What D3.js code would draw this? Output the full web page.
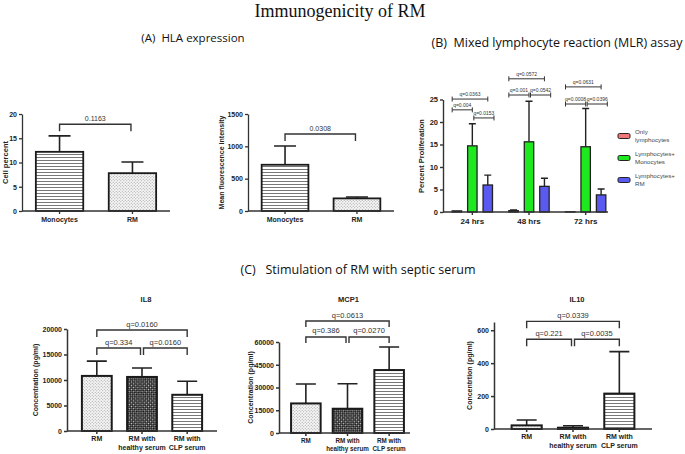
<!DOCTYPE html>
<html>
<head>
<meta charset="utf-8">
<script src="https://cdn.jsdelivr.net/npm/d3@7"></script>
<style>
  body { margin: 0; background: #fff; }
  svg { display: block; }
  text { font-family: "Liberation Sans", Arial, sans-serif; fill: #222; }
</style>
</head>
<body>
<svg></svg>
<script>
const w = 685
const h = 454
const svg = d3.select("svg").attr("width", w).attr("height", h)

// (A) HLA expression
const hlaGroups = ["Monocytes", "RM"]
const cellPercent = [12.2, 7.8]
const cellPercentSD = [3.3, 2.3]
const mfiValues = [715, 195]
const mfiSD = [290, 22]

// (B) MLR assay
const mlrTimes = ["24 hrs", "48 hrs", "72 hrs"]
const mlrSeries = ["Only lymphocytes", "Lymphocytes+ Monocytes", "Lymphocytes+ RM"]
const onlyLymph = [0.25, 0.3, 0.05]
const onlyLymphSD = [0, 0.15, 0]
const lymphMono = [14.7, 15.6, 14.5]
const lymphMonoSD = [4.9, 9.0, 8.5]
const lymphRM = [6.0, 5.7, 3.8]
const lymphRMSD = [2.2, 1.8, 1.3]
const mlrColors = ["#f07878", "#1ee81e", "#5a5af0"]
// time, from series, to series, label, level
const mlrQ = [
  ["24 hrs", 0, 1, "q=0.004", 22.7],
  ["24 hrs", 1, 2, "q=0.0153", 20.9],
  ["24 hrs", 0, 2, "q=0.0363", 25.1],
  ["48 hrs", 0, 1, "q=0.001", 26.0],
  ["48 hrs", 1, 2, "q=0.0542", 26.0],
  ["48 hrs", 0, 2, "q=0.0572", 29.6],
  ["72 hrs", 0, 1, "q=0.0008", 24.0],
  ["72 hrs", 1, 2, "q=0.0396", 24.0],
  ["72 hrs", 0, 2, "q=0.0631", 27.8]
]

// (C) septic serum
const serumGroups = ["RM", "RM with|healthy serum", "RM with|CLP serum"]
const il8 = [10800, 10600, 7100]
const il8SD = [2900, 1750, 2650]
const mcp1 = [19500, 16000, 41500]
const mcp1SD = [12800, 16500, 15200]
const il10 = [22, 8, 215]
const il10SD = [33, 12, 255]

// patterns
const defs = svg.append("defs")
const hl = defs.append("pattern").attr("id", "hlines").attr("patternUnits", "userSpaceOnUse")
  .attr("width", 4).attr("height", 3)
hl.append("rect").attr("width", 4).attr("height", 3).attr("fill", "#fff")
hl.append("line").attr("x1", 0).attr("x2", 4).attr("y1", 1.5).attr("y2", 1.5)
  .attr("stroke", "#555").attr("stroke-width", 0.8)
const dt = defs.append("pattern").attr("id", "dots").attr("patternUnits", "userSpaceOnUse")
  .attr("width", 3).attr("height", 3)
dt.append("rect").attr("width", 3).attr("height", 3).attr("fill", "#f6f6f6")
dt.append("circle").attr("cx", 0.75).attr("cy", 0.75).attr("r", 0.55).attr("fill", "#999")
dt.append("circle").attr("cx", 2.25).attr("cy", 2.25).attr("r", 0.55).attr("fill", "#999")
const ck = defs.append("pattern").attr("id", "checker").attr("patternUnits", "userSpaceOnUse")
  .attr("width", 3).attr("height", 3).attr("patternTransform", "rotate(45)")
ck.append("rect").attr("width", 3).attr("height", 3).attr("fill", "#111")
ck.append("rect").attr("x", 0.3).attr("y", 0.3).attr("width", 1.1).attr("height", 1.1).attr("fill", "#fff")
ck.append("rect").attr("x", 1.8).attr("y", 1.8).attr("width", 1.1).attr("height", 1.1).attr("fill", "#fff")

svg.append("rect").attr("width", w).attr("height", h).attr("fill", "#fff").lower()

// titles
svg.append("text").attr("x", 340).attr("y", 17).attr("text-anchor", "middle")
  .style("font-family", "'Liberation Serif', serif").style("font-size", "18px").style("fill", "#111")
  .text("Immunogenicity of RM")
const sectionTitle = (x, y, txt, size) => svg.append("text").attr("x", x).attr("y", y)
  .attr("text-anchor", "middle").attr("xml:space", "preserve")
  .style("font-family", "'Open Sans', sans-serif").style("font-size", size + "px").style("fill", "#111")
  .text(txt)
sectionTitle(193, 42, "(A)  HLA expression", 11.5)
sectionTitle(557, 47, "(B)  Mixed lymphocyte reaction (MLR) assay", 12.5)
sectionTitle(358, 274, "(C)   Stimulation of RM with septic serum", 12.5)

const styleAxis = (ax, width) => {
  ax.selectAll("path, line").attr("stroke", "#333").attr("stroke-width", width)
  ax.selectAll("text").style("font-weight", "bold").style("font-family", "'Liberation Sans', Arial, sans-serif").attr("fill", "#222")
}

const drawPanel = (o) => {
  const g = svg.append("g")
  const x = d3.scaleBand().domain(o.groups).range([o.x0, o.bandEnd || o.x1])
    .paddingInner(o.padIn).paddingOuter(o.padOut)
  const y = d3.scaleLinear().domain([0, o.max]).range([o.yBottom, o.yTop])
  const cx = i => x(o.groups[i]) + x.bandwidth() / 2

  // error bars
  g.selectAll(".err").data(o.values).join("path")
    .attr("d", (d, i) => `M${cx(i)},${y(d)}V${y(d + o.sd[i])}M${cx(i) - o.capW / 2},${y(d + o.sd[i])}H${cx(i) + o.capW / 2}`)
    .attr("stroke", "#222").attr("stroke-width", 1.6).attr("fill", "none")

  g.selectAll(".bar").data(o.values).join("rect")
    .attr("x", (d, i) => x(o.groups[i]))
    .attr("y", d => y(d))
    .attr("width", x.bandwidth())
    .attr("height", d => o.yBottom - y(d))
    .attr("fill", (d, i) => `url(#${o.fills[i]})`)
    .attr("stroke", "#1a1a1a").attr("stroke-width", o.barW)

  const xa = g.append("g").attr("transform", `translate(0,${o.yBottom})`)
    .call(d3.axisBottom(x).tickSize(3).tickSizeOuter(0).tickFormat(""))
  xa.select(".domain").attr("d", `M${o.x0},0H${o.x1}`)
  styleAxis(xa, o.axisW)

  const ya = g.append("g").attr("transform", `translate(${o.x0},0)`)
    .call(d3.axisLeft(y).tickValues(o.ticks).tickFormat(d3.format("d"))
      .tickSize(3).tickSizeOuter(0).tickPadding(2))
  styleAxis(ya, o.axisW)
  ya.selectAll("text").style("font-size", o.tickFont + "px")

  // category labels
  o.groups.forEach((gname, i) => {
    const t = g.append("text").attr("x", cx(i)).attr("y", o.yBottom + o.labelDy)
      .attr("text-anchor", "middle").style("font-weight", "bold").style("font-size", o.labelFont + "px")
    gname.split("|").forEach((line, k) => {
      t.append("tspan").attr("x", cx(i)).attr("dy", k ? o.labelFont + 1.5 : 0).text(line)
    })
  })

  // y label
  g.append("text")
    .attr("transform", `translate(${o.ylabelX},${(o.yBottom + o.yTop) / 2}) rotate(-90)`)
    .attr("text-anchor", "middle").style("font-weight", "bold").style("font-size", o.ylabelFont + "px")
    .text(o.ylabel)

  if (o.title) {
    g.append("text").attr("x", (o.x0 + o.x1) / 2 + 4).attr("y", o.titleY)
      .attr("text-anchor", "middle").style("font-weight", "bold").style("font-size", "7.5px")
      .text(o.title)
  }

  // comparison brackets
  o.brackets.forEach(([i, j, label, level]) => {
    const by = y(level)
    const xa1 = cx(i) + (i === 1 ? 1.5 : 0)
    const xa2 = cx(j) - (j === 1 ? 1.5 : 0)
    g.append("path")
      .attr("d", `M${xa1},${by + o.drop}V${by}H${xa2}V${by + o.drop}`)
      .attr("fill", "none").attr("stroke", "#333").attr("stroke-width", 1.4)
    g.append("text").attr("x", (xa1 + xa2) / 2).attr("y", by - 3.5)
      .attr("text-anchor", "middle").style("font-size", o.qFont + "px").style("fill", "#333")
      .text(label)
  })
}

// (A) panels
drawPanel({
  groups: hlaGroups, values: cellPercent, sd: cellPercentSD, fills: ["hlines", "dots"],
  x0: 22, x1: 170, yBottom: 211, yTop: 114, max: 20, ticks: [0, 5, 10, 15, 20],
  padIn: 0.35, padOut: 0.19, capW: 22, barW: 1.8, axisW: 1.3, tickFont: 7, labelFont: 7, labelDy: 11,
  ylabel: "Cell percent", ylabelX: 8, ylabelFont: 7.5,
  brackets: [[0, 1, "0.1163", 17.9]], drop: 7, qFont: 7
})
drawPanel({
  groups: hlaGroups, values: mfiValues, sd: mfiSD, fills: ["hlines", "dots"],
  x0: 248, x1: 394, yBottom: 211, yTop: 114, max: 1500, ticks: [0, 500, 1000, 1500],
  padIn: 0.35, padOut: 0.19, capW: 22, barW: 1.8, axisW: 1.3, tickFont: 7, labelFont: 7, labelDy: 11,
  ylabel: "Mean fluorescence intensity", ylabelX: 224, ylabelFont: 7,
  brackets: [[0, 1, "0.0308", 1190]], drop: 7, qFont: 7
})

// (C) panels
const cCommon = {
  groups: serumGroups, fills: ["dots", "checker", "hlines"], capW: 20, barW: 2, axisW: 1.5,
  tickFont: 7, labelFont: 7, labelDy: 10, ylabelFont: 7, drop: 7, qFont: 7.5, titleY: 302
}
drawPanel(Object.assign({}, cCommon, {
  values: il8, sd: il8SD, x0: 67, x1: 217, yBottom: 431, yTop: 329, max: 20000,
  ticks: [0, 5000, 10000, 15000, 20000], padIn: 0.34, padOut: 0.33,
  ylabel: "Concentration (pg/ml)", ylabelX: 38, title: "IL8",
  brackets: [[0, 1, "q=0.334", 16270], [1, 2, "q=0.0160", 16270], [0, 2, "q=0.0160", 19800]]
}))
drawPanel(Object.assign({}, cCommon, {
  values: mcp1, sd: mcp1SD, x0: 279, x1: 410, bandEnd: 416, yBottom: 433, yTop: 342, max: 60000,
  ticks: [0, 15000, 30000, 45000, 60000], padIn: 0.29, padOut: 0.29, labelFont: 6.3,
  ylabel: "Concentration (pg/ml)", ylabelX: 253, title: "MCP1", drop: 6,
  brackets: [[0, 1, "q=0.386", 63300], [1, 2, "q=0.0270", 63300], [0, 2, "q=0.0613", 73800]]
}))
drawPanel(Object.assign({}, cCommon, {
  values: il10, sd: il10SD, x0: 494, x1: 652, yBottom: 429, yTop: 322, max: 650,
  ticks: [0, 200, 400, 600], padIn: 0.35, padOut: 0.38,
  ylabel: "Concentrtion (pg/ml)", ylabelX: 472, title: "IL10",
  brackets: [[0, 1, "q=0.221", 545], [1, 2, "q=0.0035", 545], [0, 2, "q=0.0339", 654]]
}))

// (B) grouped bars
const gB = svg.append("g")
const yB = d3.scaleLinear().domain([0, 25]).range([212, 99.5])
const xB = d3.scaleBand().domain(mlrTimes).range([444, 614])
const xS = d3.scaleBand().domain(mlrSeries)
  .range([(xB.bandwidth() - 46.5) / 2, (xB.bandwidth() + 46.5) / 2])
  .paddingInner(0.39).paddingOuter(0.2)
const mlrValues = [onlyLymph, lymphMono, lymphRM]
const mlrSDs = [onlyLymphSD, lymphMonoSD, lymphRMSD]
const sx = (t, s) => xB(t) + xS(mlrSeries[s])
const scx = (t, s) => sx(t, s) + xS.bandwidth() / 2

mlrSeries.forEach((ser, s) => {
  const sg = gB.append("g")
  sg.selectAll("path").data(mlrValues[s]).join("path")
    .attr("d", (d, i) => {
      const c = scx(mlrTimes[i], s), top = yB(d + mlrSDs[s][i])
      return mlrSDs[s][i] > 0 ? `M${c},${yB(d)}V${top}M${c - 3.5},${top}H${c + 3.5}` : ""
    })
    .attr("stroke", "#222").attr("stroke-width", 1.4).attr("fill", "none")
  sg.selectAll("rect").data(mlrValues[s]).join("rect")
    .attr("x", (d, i) => sx(mlrTimes[i], s))
    .attr("y", d => yB(d))
    .attr("width", xS.bandwidth())
    .attr("height", d => 212 - yB(d))
    .attr("fill", mlrColors[s]).attr("stroke", "#222").attr("stroke-width", 1.3)
})

const xaB = gB.append("g").attr("transform", "translate(0,212)")
  .call(d3.axisBottom(xB).tickSize(3).tickSizeOuter(0).tickPadding(3))
xaB.select(".domain").attr("d", "M443,0H608")
styleAxis(xaB, 1.4)
xaB.selectAll("text").style("font-size", "8px")
const yaB = gB.append("g").attr("transform", "translate(443,0)")
  .call(d3.axisLeft(yB).tickValues([0, 5, 10, 15, 20, 25]).tickSize(3).tickSizeOuter(0).tickPadding(2))
styleAxis(yaB, 1.4)
yaB.selectAll("text").style("font-size", "7.5px")
gB.append("text").attr("transform", "translate(424,156) rotate(-90)")
  .attr("text-anchor", "middle").style("font-weight", "bold").style("font-size", "7.5px")
  .text("Percent Proliferation")

mlrQ.forEach(([t, i, j, label, level]) => {
  const by = yB(level)
  const x1 = i === 0 ? sx(t, 0) : scx(t, i) + 1.5
  const x2 = (i === 1 && j === 2) ? sx(t, 2) + xS.bandwidth() + 1.5 : scx(t, j)
  gB.append("path")
    .attr("d", `M${x1},${by - 2.5}V${by + 2.5}M${x1},${by}H${x2}M${x2},${by - 2.5}V${by + 2.5}`)
    .attr("stroke", "#333").attr("stroke-width", 1).attr("fill", "none")
  gB.append("text").attr("x", (x1 + x2) / 2).attr("y", by - 3)
    .attr("text-anchor", "middle").style("font-size", "5px").style("fill", "#333")
    .text(label)
})

// legend
mlrSeries.forEach((ser, s) => {
  const yc = 136 + s * 22
  gB.append("rect").attr("x", 618).attr("y", yc - 2.5).attr("width", 12).attr("height", 5).attr("rx", 1.5)
    .attr("fill", mlrColors[s]).attr("stroke", "#222").attr("stroke-width", 1)
  const parts = ser.split(" ")
  parts.forEach((p, k) => {
    gB.append("text").attr("x", 635).attr("y", yc - 2 + k * 7.5)
      .style("font-size", "6.2px").style("fill", "#444").text(p)
  })
})
</script>
</body>
</html>
